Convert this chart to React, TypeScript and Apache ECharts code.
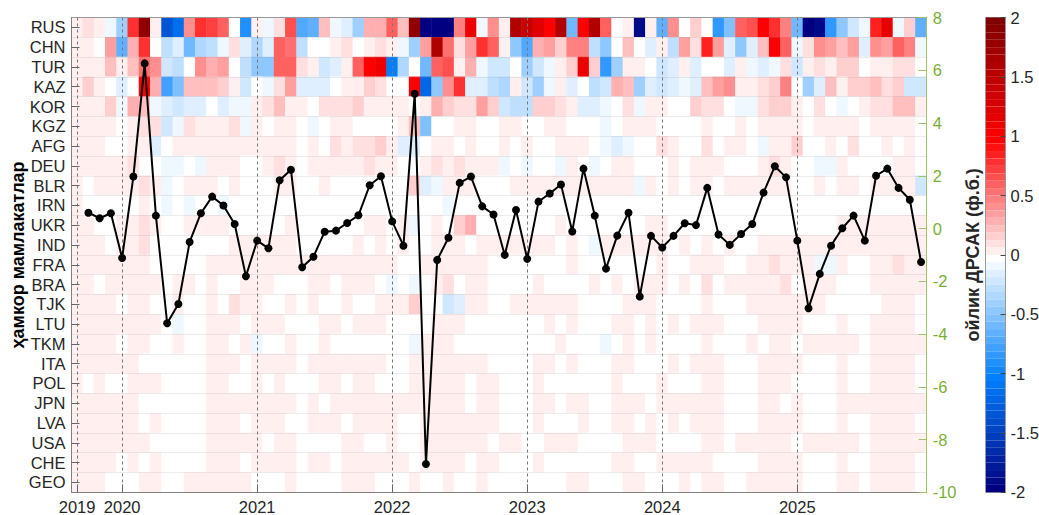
import React, { useEffect, useRef } from "react";
import * as echarts from "echarts";

const p = 0.07;

const countries = ["RUS","CHN","TUR","KAZ","KOR","KGZ","AFG","DEU","BLR","IRN","UKR","IND","FRA","BRA","TJK","LTU","TKM","ITA","POL","JPN","LVA","USA","CHE","GEO"];

const months = ["2019-09","2019-10","2019-11","2019-12",
  "2020-01","2020-02","2020-03","2020-04","2020-05","2020-06","2020-07","2020-08","2020-09","2020-10","2020-11","2020-12",
  "2021-01","2021-02","2021-03","2021-04","2021-05","2021-06","2021-07","2021-08","2021-09","2021-10","2021-11","2021-12",
  "2022-01","2022-02","2022-03","2022-04","2022-05","2022-06","2022-07","2022-08","2022-09","2022-10","2022-11","2022-12",
  "2023-01","2023-02","2023-03","2023-04","2023-05","2023-06","2023-07","2023-08","2023-09","2023-10","2023-11","2023-12",
  "2024-01","2024-02","2024-03","2024-04","2024-05","2024-06","2024-07","2024-08","2024-09","2024-10","2024-11","2024-12",
  "2025-01","2025-02","2025-03","2025-04","2025-05","2025-06","2025-07","2025-08","2025-09","2025-10","2025-11","2025-12"];

const yearTickPositions = [0.5, 4.5, 16.5, 28.5, 40.5, 52.5, 64.5];
const yearTickLabels = ["2019", "2020", "2021", "2022", "2023", "2024", "2025"];

const RUS = [.07,.13,.07,-.07,-.4,.8,1.9,.07,-1.3,-1.1,.45,.8,.75,.65,0,-.85,.07,-.07,.13,.7,-.7,-.6,.27,
  -.07,-.13,-.35,.33,.33,.65,.27,1.9,-2,-2,-2,.5,1.1,-.07,.45,.07,1.65,1.45,1.25,1,1.6,-.55,1,1.65,.65,0,.07,-1.85,.07,-.6,
  .45,0,.2,0,-.8,-.5,.65,.7,1,.8,.5,-.55,-2,-1.85,-.8,-.45,-.2,-.07,.9,1.2,-.07,.2,-.6];
const CHN = [.07,.07,0,.4,-.6,.33,.8,0,-.27,-.13,-.55,-.33,-.27,-.07,.13,-.13,-.3,-.13,.6,.55,-.27,0,0,
  .07,.13,0,.07,.13,.07,-.07,-.35,.4,1.6,.55,.13,.4,.8,.65,.07,-.45,-.7,.33,.4,.2,.5,.5,-.27,-.45,0,.27,0,-.13,.07,
  -.27,.4,.13,.85,.35,-.13,-.45,-.13,.27,1,.6,-.07,.13,.45,.4,.27,.4,-.13,.45,.4,.65,.5,-.07];
const TUR = [.07,.07,.07,.27,.07,.27,.55,.45,-.2,-.27,0,.45,.33,.4,0,-.27,-.45,-.45,.65,.6,.13,.07,-.2,
  -.13,.07,.6,1,1.1,-1,-.33,0,-.55,.6,.7,.07,.33,-.07,-.2,-.2,0,-.4,-.2,-.07,.07,.2,1.1,.2,-.8,-.37,.07,.07,0,-.2,
  -.13,.07,-.13,0,0,-.13,.07,-.07,-.13,-.07,.13,-.2,.07,.13,.07,.2,.2,0,.07,.07,.13,.13,0];
const KAZ = [.07,.2,.07,0,-.1,0,1,.33,-.75,-.5,.25,.27,.27,.2,.07,-.2,0,-.07,.13,.4,-.13,-.13,-.13,
  0,.07,.07,.2,.13,0,0,1,-1.2,-.45,.45,.8,-.13,-.13,-.27,-.33,.07,-.17,-.4,-.07,.07,-.13,0,-.27,-.2,.33,.27,-.4,-.13,-.2,
  -.13,-.07,-.13,.25,.37,.43,.07,.07,.13,.2,.5,0,-.4,-.13,.27,.07,.2,.2,.27,.13,.2,-.2,-.2];
const KOR = [.07,.07,.07,.2,-.07,.33,.27,-.07,-.13,-.2,-.13,-.13,0,-.13,-.07,-.07,.07,.13,.27,.07,.07,0,.13,
  .13,.13,.2,.07,.07,.07,.07,0,.07,.33,.2,.13,.13,.4,.2,-.2,-.27,-.27,.17,.2,.13,.07,-.13,-.13,-.07,0,.13,-.07,.07,.07,
  0,0,.2,.13,.13,0,-.07,-.07,.13,.2,.2,.07,0,.13,0,-.07,0,.07,.13,.13,.27,.27,.07];
const KGZ = [.07,.07,.07,.07,0,.07,.1,.13,-.2,-.07,.13,.07,.07,.07,.13,-.07,.07,0,.07,.07,0,-.07,0,
  .07,.07,0,0,0,0,.07,.25,-.5,0,0,.07,.07,0,0,.07,.07,0,0,.07,.07,0,0,0,-.07,0,.07,.07,.07,0,
  0,0,0,.07,0,0,.07,0,.07,.07,.07,.07,0,.07,.07,.07,.07,0,.07,.07,.07,.07,0];
const AFG = [.07,.07,.07,0,0,.07,.07,-.1,0,.07,.07,.07,.07,.07,.07,.07,.07,.07,.07,.07,0,.07,0,
  .13,.07,.13,.13,.2,.07,-.13,-.13,0,.07,.07,0,.07,0,0,.07,0,.07,0,0,.07,.07,.07,0,-.07,-.13,-.07,0,0,.13,
  .07,0,0,.13,0,.07,.07,0,-.07,.07,.07,.2,0,0,.07,0,.13,0,0,.07,0,.07,0];
const DEU = [p,p,p,p,p,.13,0,0,-.07,-.07,0,-.07,p,p,p,0,0,p,.13,p,0,p,p,
  p,p,p,.13,p,p,0,0,p,.13,p,.13,p,p,p,-.07,0,-.07,0,0,-.07,p,0,-.07,0,p,p,0,0,0,
  p,0,p,p,p,0,0,0,p,.13,p,0,0,-.07,-.07,p,0,0,0,0,p,p,0];
const BLR = [p,0,p,p,p,p,.13,p,-.07,0,p,p,p,0,p,0,0,0,p,p,0,0,p,
  0,0,0,0,0,0,0,.2,-.13,-.07,p,p,p,0,0,0,p,p,p,p,p,p,p,p,p,p,p,-.07,p,0,
  p,0,p,p,0,p,p,p,p,p,p,0,0,p,0,p,p,0,p,p,p,p,-.2];
const IRN = [p,0,0,0,0,0,p,0,-.07,0,-.07,0,0,-.07,0,0,0,0,0,0,0,0,0,
  0,0,0,0,0,0,0,0,0,0,-.07,0,0,0,0,0,0,0,0,0,0,0,0,0,0,0,0,0,0,0,
  0,0,0,0,0,0,0,0,0,0,0,0,0,0,0,0,0,0,0,0,0,0,0];
const UKR = [p,p,0,0,p,p,.13,p,0,0,p,p,p,p,0,0,0,0,0,p,0,0,0,
  0,0,0,p,p,0,p,-.07,0,p,0,.2,.33,0,0,0,0,0,0,0,p,0,0,0,0,0,0,0,p,p,
  0,0,0,0,0,0,0,0,0,0,0,0,0,0,0,p,p,p,p,p,p,p,p];
const IND = [p,p,p,0,p,p,.13,0,0,0,0,0,0,0,p,p,p,p,p,p,0,0,0,
  0,0,p,0,p,0,p,0,0,p,p,p,0,p,p,p,p,p,p,p,0,p,0,-.07,p,p,p,p,p,p,
  0,p,0,p,0,p,0,0,p,p,p,p,p,p,p,p,p,p,p,p,p,p,p];
const FRA = [p,p,p,p,p,p,p,0,0,0,0,0,p,p,p,p,p,p,p,p,p,p,p,
  p,p,p,p,p,p,0,0,p,p,p,p,p,p,0,0,0,0,0,0,0,p,0,0,0,0,0,0,0,p,
  0,0,p,p,p,0,0,p,p,.13,p,p,p,-.07,-.07,p,0,0,p,p,.13,p,p];
const BRA = [p,p,0,p,p,p,p,p,0,p,p,0,p,0,0,p,p,p,0,0,0,p,p,
  0,p,p,p,0,-.07,0,-.07,0,p,.13,0,p,p,0,0,0,0,p,0,0,0,0,p,0,p,0,p,p,p,
  0,p,0,.13,0,p,p,p,p,p,.13,0,p,p,p,0,0,0,p,p,p,p,p];
const TJK = [p,p,p,p,0,p,p,0,0,p,0,0,p,0,.13,p,p,0,0,p,0,p,0,
  0,p,0,0,p,p,p,.2,0,0,-.2,-.1,p,p,0,0,p,p,p,p,p,p,0,0,0,0,p,p,p,0,
  0,0,0,p,0,0,0,p,p,p,p,p,p,p,0,0,0,0,0,p,p,p,0];
const LTU = [p,p,p,p,p,p,p,p,0,-.07,0,0,p,p,p,0,p,p,p,0,0,0,p,
  p,0,p,p,p,0,0,0,0,p,p,p,0,0,0,0,0,0,0,p,0,p,0,0,0,p,p,0,p,0,
  p,0,p,p,p,0,0,0,p,p,p,p,0,0,0,p,0,0,p,p,p,p,0];
const TKM = [p,p,p,p,0,p,p,0,0,p,0,0,p,p,0,p,-.07,0,0,p,0,0,p,
  0,0,0,0,0,0,0,-.07,p,p,p,0,0,0,0,0,0,0,0,0,p,0,0,0,-.07,0,p,0,p,0,
  0,0,0,p,0,0,0,p,0,p,p,0,p,p,p,p,p,0,p,p,p,p,p];
const ITA = [p,p,p,p,p,p,0,0,0,0,0,0,p,p,p,0,p,p,p,p,0,p,p,
  p,p,p,p,p,0,0,p,p,p,p,p,p,p,0,0,0,0,p,p,0,p,0,0,0,p,p,0,0,0,
  p,0,p,p,p,0,0,0,p,p,p,p,0,0,0,p,0,0,p,p,p,p,0];
const POL = [p,0,p,0,0,p,p,p,0,0,0,0,p,p,0,0,p,0,p,0,0,0,p,
  p,0,p,p,0,0,0,p,p,p,p,p,0,p,p,0,0,0,p,0,0,0,0,0,0,p,0,0,0,p,
  0,0,0,p,p,0,0,0,p,p,p,0,0,0,0,p,0,0,p,p,p,p,0];
const JPN = [p,p,p,p,p,p,0,0,0,0,0,0,p,p,p,p,p,p,p,p,0,p,0,
  p,p,p,p,p,p,p,p,p,p,p,p,0,p,p,0,0,0,p,p,0,p,p,0,0,p,p,p,0,p,
  p,p,p,p,p,0,0,0,p,p,0,p,0,0,0,p,p,p,p,p,p,p,p];
const LVA = [p,p,p,p,p,p,0,p,0,0,0,0,p,p,p,0,p,p,p,0,0,p,p,
  p,0,p,p,p,p,0,0,p,p,p,p,p,p,p,0,0,0,p,0,0,0,p,0,0,p,p,0,p,0,
  p,0,p,p,p,0,0,0,p,p,p,p,0,0,0,p,0,0,p,p,p,p,0];
const USA = [p,p,p,p,p,p,p,0,0,0,0,0,p,p,p,p,p,0,p,p,0,0,0,
  0,p,p,0,0,p,0,0,p,p,p,p,p,p,0,p,p,0,0,p,p,p,0,0,0,0,p,p,p,0,
  0,0,0,p,p,0,p,p,p,p,p,0,p,p,p,p,p,0,p,p,p,p,p];
const CHE = [p,p,p,p,0,p,0,p,0,0,0,0,p,p,p,0,p,p,p,p,0,p,p,
  0,p,p,p,p,p,p,0,p,p,p,p,0,p,p,0,0,0,p,0,0,0,0,0,0,p,p,0,0,p,
  p,p,p,p,0,0,0,0,p,p,p,p,0,0,0,p,0,0,p,p,p,p,0];
const GEO = [p,p,p,0,0,0,p,p,0,0,p,p,p,p,p,p,0,0,0,p,0,0,0,
  0,p,p,p,0,0,0,p,0,0,p,0,0,p,0,0,0,0,0,0,0,p,p,0,0,0,p,p,0,0,
  0,p,0,p,p,0,0,p,p,p,p,p,0,0,0,p,p,0,p,p,p,p,0];

const rows = [RUS,CHN,TUR,KAZ,KOR,KGZ,AFG,DEU,BLR,IRN,UKR,IND,FRA,BRA,TJK,LTU,TKM,ITA,POL,JPN,LVA,USA,CHE,GEO];

const monthlyRate = [null,0.6,0.39,0.58,-1.12,1.97,6.26,0.49,-3.59,-2.86,-0.51,0.58,1.21,0.87,0.17,-1.81,-0.46,-0.75,1.83,2.23,-1.47,-1.07,-0.12,
  -0.08,0.21,0.5,1.64,1.98,0.27,-0.65,5.11,-8.93,-1.19,-0.35,1.73,1.97,0.84,0.53,-1.0,0.7,-1.15,1.02,1.33,1.67,-0.11,2.27,0.49,-1.52,-0.27,0.6,-2.58,-0.28,-0.72,
  -0.28,0.2,0.13,1.54,-0.23,-0.62,-0.21,0.17,1.36,2.36,1.94,-0.46,-3.02,-1.72,-0.65,0.01,0.49,-0.46,2.0,2.27,1.54,1.09,-1.27];

const colorOf = (k: number) => {
  const h = (r: number, g: number, b: number) => `rgb(${Math.round(r)},${Math.round(g)},${Math.round(b)})`;
  if (k === 0) return "#ffffff";
  if (k > 0) {
    if (k <= 16) return h(255, 255 * (1 - k / 16), 255 * (1 - k / 16));
    return h(255 - ((k - 16) / 16) * 127, 0, 0);
  }
  const n = -k;
  if (n <= 16) return h(255 * (1 - n / 16), 255 - (n / 16) * 127, 255);
  return h(0, 128 * (1 - (n - 16) / 15), 255 - ((n - 16) / 15) * 127);
};

const pieces: any[] = [];
for (let k = -31; k <= 32; k++) {
  const piece: any = { color: colorOf(k) };
  if (k > -31) piece.gte = (k - 0.5) / 16;
  if (k < 32) piece.lt = (k + 0.5) / 16;
  pieces.push(piece);
}

const FONT = "Liberation Sans";
const TEXT = "#262626";
const GREEN = "#7AAF35";
const GREEN_LINE = "#9CC562";
const L = 71.5, T = 17.5, W = 855.2, H = 474.8;

export default function App() {
  const ref = useRef<HTMLDivElement>(null);
  useEffect(() => {
    document.body.style.margin = "0";
    const chart = echarts.init(ref.current!, null, { renderer: "svg" });
    const heat: number[][] = [];
    rows.forEach((r, y) => r.forEach((v, x) => heat.push([x, y, v])));
    chart.setOption({
      animation: false,
      backgroundColor: "#ffffff",
      textStyle: { fontFamily: FONT },
      grid: [
        { left: L, top: T, width: W, height: H, outerBoundsMode: "none" },
        { left: 985.5, top: T, width: 20, height: H, show: true, borderColor: "#999", borderWidth: 1, backgroundColor: "transparent", outerBoundsMode: "none" },
      ],
      visualMap: {
        type: "piecewise",
        seriesIndex: 0,
        pieces,
        show: true,
        orient: "vertical",
        left: 986,
        top: T,
        padding: 0,
        itemWidth: 19,
        itemHeight: H / 64,
        itemGap: 0,
        itemSymbol: "rect",
        showLabel: false,
        selectedMode: false,
        hoverLink: false,
        text: null,
      },
      xAxis: [
        { type: "category", gridIndex: 0, data: months, show: false, axisLine: { onZero: false } },
        {
          type: "value", gridIndex: 0, min: 0, max: 76, position: "bottom", z: 3,
          axisLine: { show: true, onZero: false, lineStyle: { color: "#808080", width: 1 } },
          axisTick: { show: true, inside: true, length: 8, customValues: yearTickPositions, lineStyle: { color: "#666" } },
          axisLabel: {
            show: true, customValues: yearTickPositions, margin: 8.7, lineHeight: 12, fontSize: 16.5, color: TEXT, fontFamily: FONT,
            formatter: (v: number) => yearTickLabels[yearTickPositions.indexOf(v)] ?? "",
          },
          splitLine: { show: true, lineStyle: { color: "#777", width: 1, type: [3, 3] } },
        },
        {
          type: "value", gridIndex: 0, min: 0, max: 76, position: "top", z: 3,
          axisLine: { show: true, onZero: false, lineStyle: { color: "#999", width: 1 } },
          axisTick: { show: false }, axisLabel: { show: false }, splitLine: { show: false },
        },
        { type: "value", gridIndex: 1, min: 0, max: 1, show: false, axisLine: { onZero: false } },
      ],
      yAxis: [
        {
          type: "category", gridIndex: 0, data: countries, inverse: true, position: "left", z: 3,
          name: "ҳамкор мамлакатлар", nameLocation: "middle", nameGap: 45, nameRotate: 90, nameMoveOverlap: false,
          nameTextStyle: { fontSize: 18, fontWeight: "bold", color: "#000", fontFamily: FONT },
          axisLine: { show: true, onZero: false, lineStyle: { color: "#808080", width: 1 } },
          axisTick: { show: true, inside: true, length: 8, alignWithLabel: true, lineStyle: { color: "#666" } },
          axisLabel: { show: true, interval: 0, margin: 6, fontSize: 16.5, color: TEXT, fontFamily: FONT },
          splitLine: { show: true, interval: 0, lineStyle: { color: "rgba(150,150,150,0.18)", width: 1 } },
        },
        {
          type: "value", gridIndex: 0, min: -10, max: 8, interval: 2, position: "right", z: 3,
          name: "ойлик ДРСАК (ф.б.)", nameLocation: "middle", nameGap: 37, nameRotate: 90, nameMoveOverlap: false,
          nameTextStyle: { fontSize: 18, fontWeight: "bold", color: TEXT, fontFamily: FONT },
          axisLine: { show: true, onZero: false, lineStyle: { color: GREEN_LINE, width: 1 } },
          axisTick: { show: true, inside: true, length: 8, lineStyle: { color: GREEN_LINE } },
          axisLabel: { show: true, margin: 6, fontSize: 16.5, color: GREEN, fontFamily: FONT },
          splitLine: { show: false },
        },
        {
          type: "value", gridIndex: 1, min: -2, max: 2, interval: 0.5, position: "right", z: 5,
          axisLine: { show: true, onZero: false, lineStyle: { color: "#999", width: 1 } },
          axisTick: { show: true, inside: true, length: 5, lineStyle: { color: "#444" } },
          axisLabel: { show: true, margin: 5, fontSize: 16.5, color: TEXT, fontFamily: FONT },
          splitLine: { show: false },
        },
      ],
      series: [
        {
          type: "heatmap", xAxisIndex: 0, yAxisIndex: 0, data: heat, z: 2,
          itemStyle: { borderWidth: 0 }, emphasis: { disabled: true }, progressive: 0,
        },
        {
          type: "line", xAxisIndex: 0, yAxisIndex: 1, data: monthlyRate, z: 4,
          symbol: "circle", symbolSize: 8, showSymbol: true, showAllSymbol: true,
          lineStyle: { color: "#000", width: 2 }, itemStyle: { color: "#000" },
          emphasis: { disabled: true },
        },
      ],
    });
    return () => chart.dispose();
  }, []);
  return <div ref={ref} style={{ position: "fixed", left: 0, top: 0, width: 1039, height: 515 }} />;
}
